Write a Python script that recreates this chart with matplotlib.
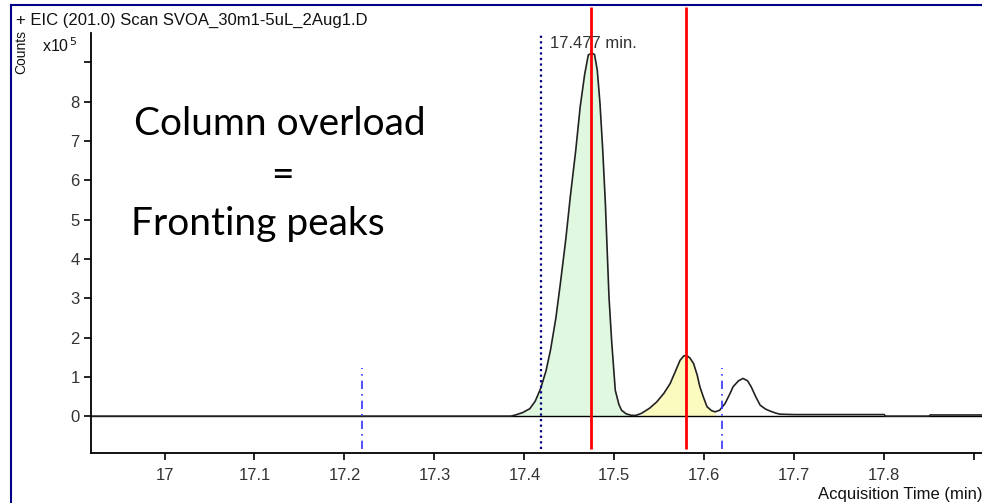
import numpy as np
import matplotlib.pyplot as plt
from matplotlib.lines import Line2D

# chromatogram trace (time in min, counts in 1e5)
time = [16.92, 17.30, 17.385, 17.390, 17.398, 17.406, 17.412, 17.418, 17.424,
        17.429, 17.435, 17.440, 17.446, 17.451, 17.457, 17.462, 17.467, 17.471,
        17.475, 17.478, 17.481, 17.484, 17.487, 17.490, 17.494, 17.497, 17.501,
        17.505, 17.508, 17.513, 17.519, 17.524, 17.530, 17.539, 17.547, 17.555,
        17.562, 17.568, 17.573, 17.577, 17.580, 17.584, 17.588, 17.592, 17.595,
        17.599, 17.603, 17.608, 17.612, 17.617, 17.623, 17.628, 17.632, 17.638,
        17.643, 17.648, 17.652, 17.657, 17.662, 17.668, 17.673, 17.679, 17.684,
        17.70, 17.80, 17.801, 17.85, 17.851, 17.95]
counts = [0.0, 0.0, 0.0, 0.03, 0.09, 0.19, 0.38, 0.70, 1.15,
          1.68, 2.50, 3.38, 4.50, 5.58, 6.75, 7.87, 8.70, 9.19,
          9.24, 9.20, 8.80, 7.96, 6.80, 5.41, 3.04, 1.90, 0.66,
          0.30, 0.15, 0.06, 0.02, 0.02, 0.07, 0.20, 0.36, 0.58,
          0.83, 1.15, 1.42, 1.53, 1.55, 1.48, 1.34, 1.05, 0.75,
          0.48, 0.24, 0.14, 0.11, 0.15, 0.32, 0.55, 0.75, 0.90,
          0.96, 0.90, 0.75, 0.50, 0.28, 0.18, 0.13, 0.08, 0.05,
          0.04, 0.04, 0.0, 0.0, 0.03, 0.03]

green_range = (17.388, 17.520)
yellow_range = (17.530, 17.612)

red_lines = [17.474, 17.580]
dashdot_lines = [17.220, 17.620]
dotted_line = 17.419
apex_label = "17.477 min."

xticks = [17.0, 17.1, 17.2, 17.3, 17.4, 17.5, 17.6, 17.7, 17.8, 17.9]
xticklabels = ["17", "17.1", "17.2", "17.3", "17.4", "17.5", "17.6", "17.7", "17.8", ""]
yticks = [0, 1, 2, 3, 4, 5, 6, 7, 8, 9]
yticklabels = ["0", "1", "2", "3", "4", "5", "6", "7", "8", ""]

plt.rcParams['font.family'] = ['Liberation Sans', 'DejaVu Sans']

fig = plt.figure(figsize=(9.82, 5.03), dpi=100)
ax = fig.add_axes([0.0924, 0.1, 0.9076, 0.886])
ax.set_xlim(16.918, 17.9086)
ax.set_ylim(-0.93, 10.41)

t = np.array(time)
c = np.array(counts)

g = (t >= green_range[0]) & (t <= green_range[1])
ax.fill_between(t[g], 0, c[g], color="#e0f8e0", lw=0)
yv = (t >= yellow_range[0]) & (t <= yellow_range[1])
ax.fill_between(t[yv], 0, c[yv], color="#fbfbc0", lw=0)

ax.axhline(0, color="black", lw=1.0)
ax.plot(t, c, color="#222222", lw=1.2)

for x in dashdot_lines:
    ax.vlines(x, -0.84, 1.22, color="#3333ff", lw=1.2, linestyles=(0, (5, 3, 1, 3)))
ax.vlines(dotted_line, -0.84, 9.75, color="#000080", lw=1.6, linestyles=(0, (1, 1.5)))
for x in red_lines:
    ax.vlines(x, -0.84, 10.41, color="#ff0000", lw=2.0)

ax.text(dotted_line + 0.0095, 9.3, apex_label, fontsize=12, color="#333333",
        ha="left", va="bottom")

for s in ["top", "right"]:
    ax.spines[s].set_visible(False)
ax.spines["left"].set_bounds(-0.93, 9.75)
ax.spines["left"].set_linewidth(1.3)
ax.spines["bottom"].set_linewidth(1.3)

ax.set_xticks(xticks)
ax.set_xticklabels(xticklabels)
ax.set_yticks(yticks)
ax.set_yticklabels(yticklabels)
ax.tick_params(axis="both", length=5, width=1.2, labelsize=12, colors="black",
               labelcolor="#333333", pad=3)
ax.tick_params(axis="x", pad=6)

# frame of the instrument window
fig.add_artist(Line2D([11 / 982, 11 / 982], [0, 1 - 5 / 503], color="#00008b", lw=1.5))
fig.add_artist(Line2D([11 / 982, 1], [1 - 5 / 503, 1 - 5 / 503], color="#00008b", lw=1.5))

fig.text(16 / 982, 1 - 20 / 503, "+ EIC (201.0) Scan SVOA_30m1-5uL_2Aug1.D",
         fontsize=12, ha="left", va="center", color="#111111")
fig.text(21 / 982, 1 - 52 / 503, "Counts", fontsize=10, rotation=90,
         ha="center", va="center", color="#111111")
fig.text(42 / 982, 1 - 46 / 503, r"x10$^{\,5}$", fontsize=11.5, ha="left",
         va="center", color="#111111")
fig.text(1.0, 1 - 494 / 503, "Acquisition Time (min)", fontsize=12,
         ha="right", va="center", color="#111111")

fig.text(134 / 982, 1 - 124 / 503, "Column overload", fontsize=28,
         family=["Lato", "DejaVu Sans"], ha="left", va="center")
fig.text(282 / 982, 1 - 176 / 503, "=", fontsize=28,
         family=["Lato", "DejaVu Sans"], ha="center", va="center")
fig.text(131 / 982, 1 - 224 / 503, "Fronting peaks", fontsize=28,
         family=["Lato", "DejaVu Sans"], ha="left", va="center")

fig.savefig("out.png", dpi=100)
